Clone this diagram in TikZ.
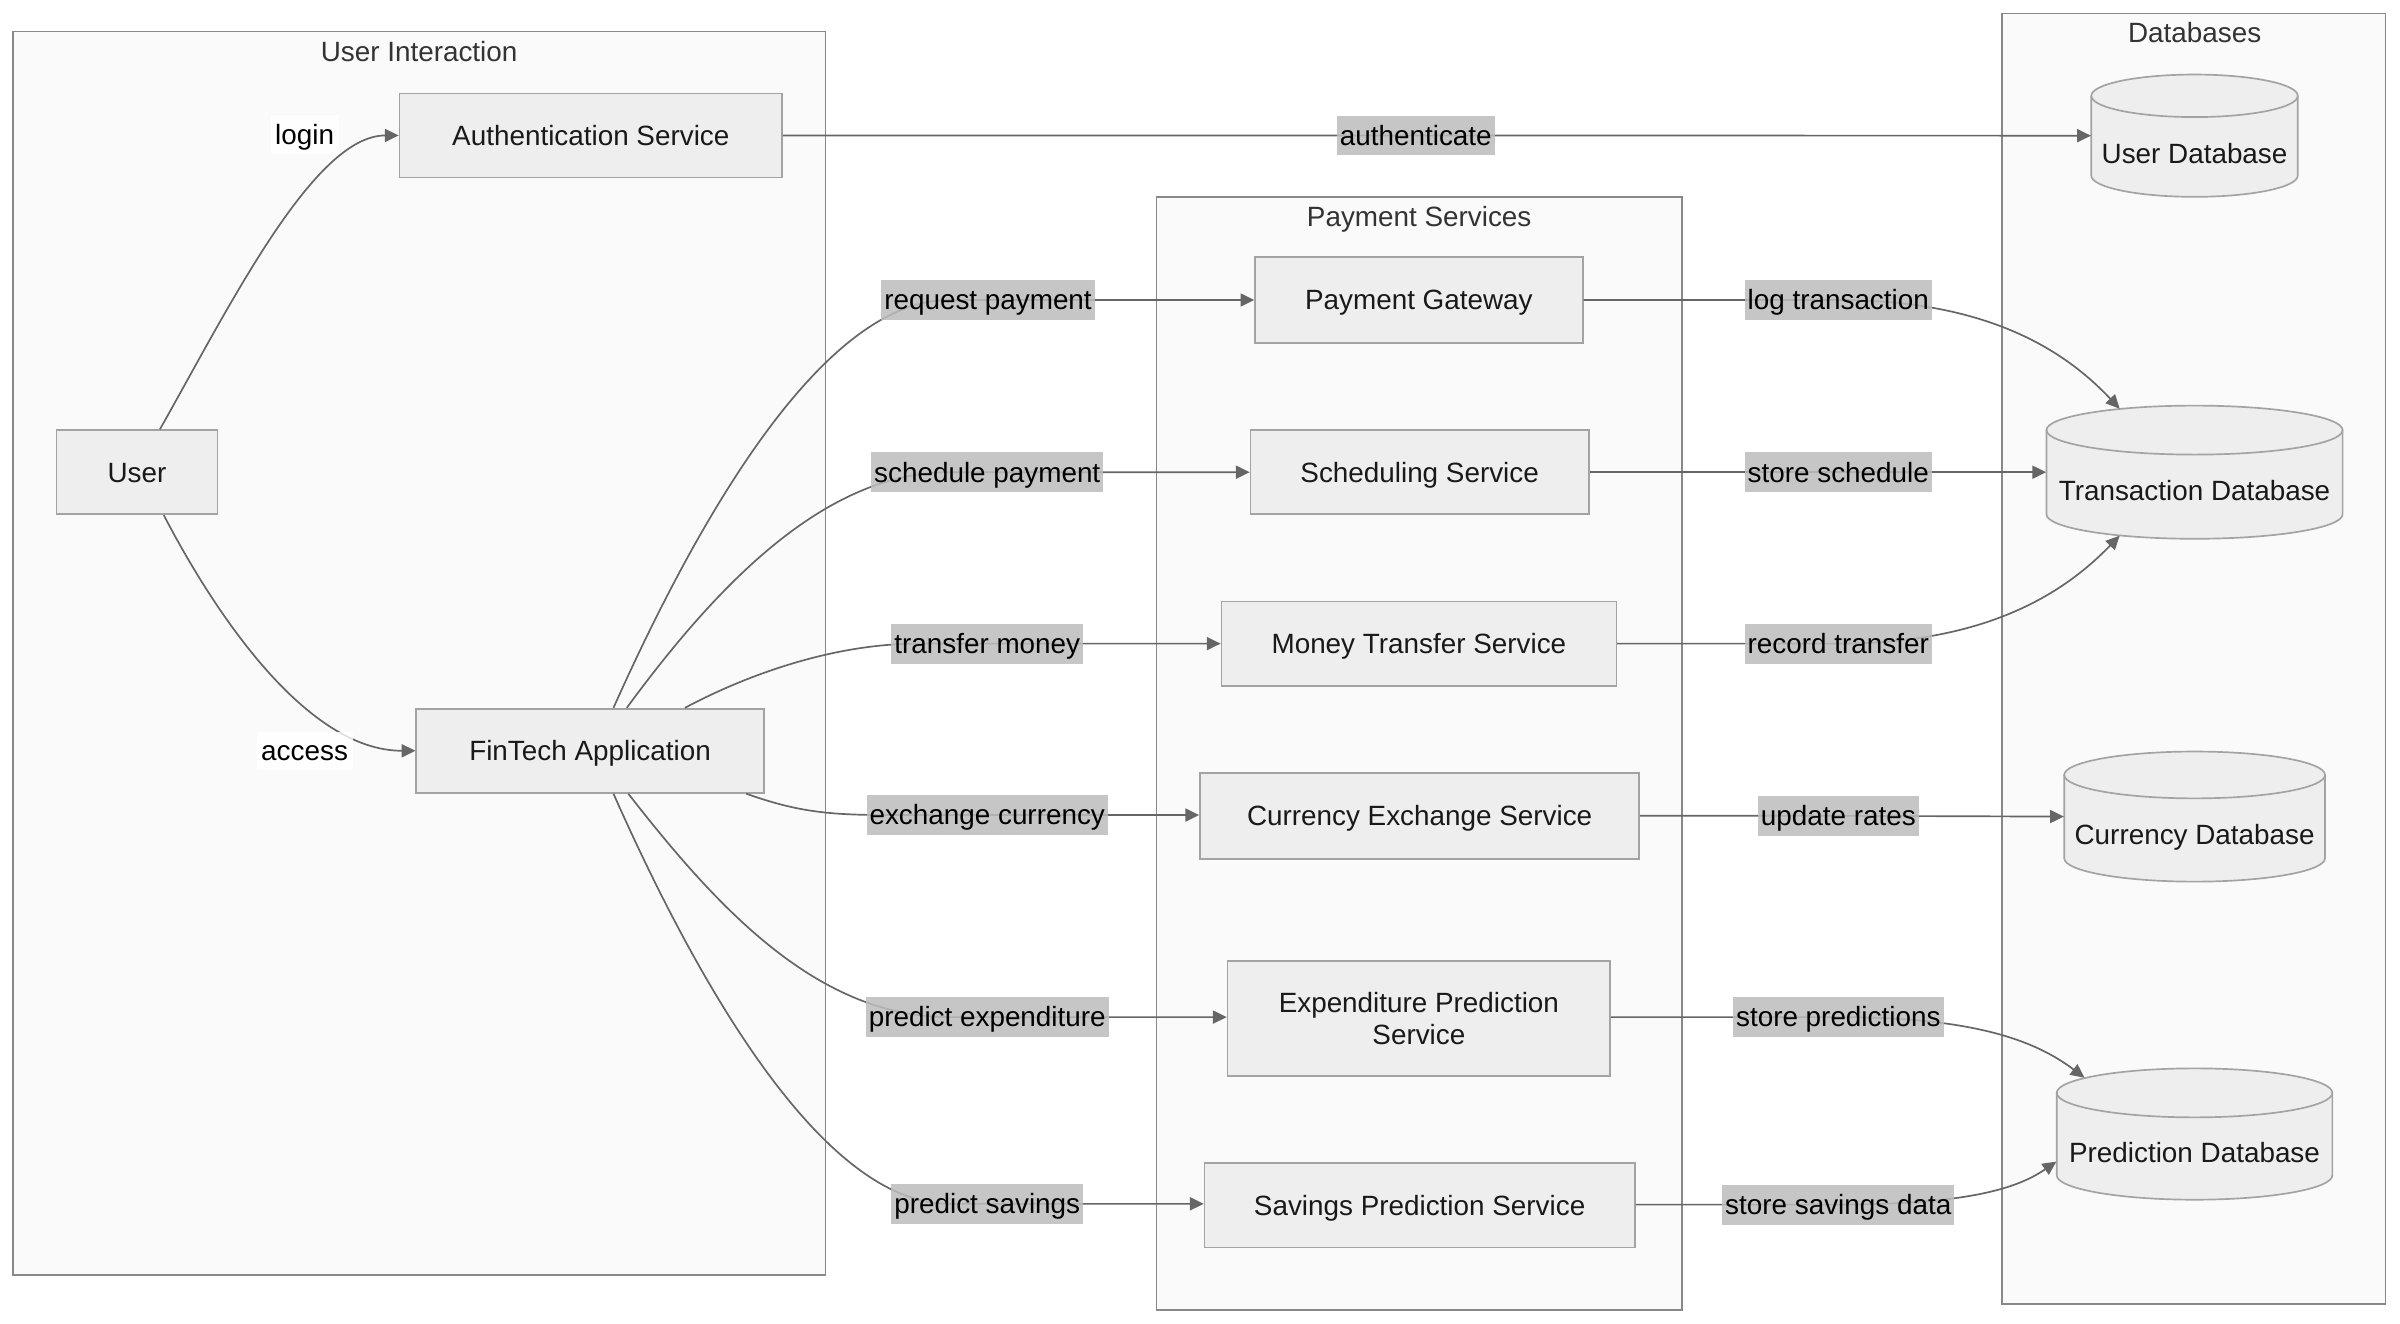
\documentclass[tikz,border=0pt]{standalone}
\usepackage{fontspec}
\setmainfont{Liberation Sans}
\usetikzlibrary{arrows.meta}
\definecolor{clfill}{HTML}{FAFAFA}
\definecolor{clline}{HTML}{888888}
\definecolor{ndfill}{HTML}{EEEEEE}
\definecolor{ndline}{HTML}{A3A3A3}
\definecolor{edgec}{HTML}{666666}
\definecolor{lblbg}{HTML}{BDBDBD}
\definecolor{ttl}{HTML}{333333}
\newcommand\mkdb[7]{%
  % #1 name, #2 cx, #3 ytop, #4 ybot, #5 rx, #6 ry, #7 text
  \path[dbshape] (#2-#5,#3+#6) -- (#2-#5,#4-#6)
     arc[start angle=180,end angle=360,x radius=#5pt,y radius=#6pt]
     -- (#2+#5,#3+#6)
     arc[start angle=0,end angle=180,x radius=#5pt,y radius=#6pt] -- cycle;
  \draw[dbshape,fill=none] (#2-#5,#3+#6)
     arc[start angle=180,end angle=360,x radius=#5pt,y radius=#6pt];
  \node[inner sep=0pt,minimum width={2*#5*1pt},minimum height={(#4-#3)*1pt}] (#1) at (#2,{(#3+#4)/2}) {};
  \node[onel,text=black!90] (#1txt) at (#2,{(#3+#4)/2+12}) {#7};
}
\begin{document}
\begin{tikzpicture}[x=1pt,y=-1pt,
  every node/.style={font=\fontsize{18.2}{21}\selectfont},
  onel/.style={text height=16.6pt,text depth=3.7pt},
  cluster/.style={draw=clline,fill=clfill,line width=1.1pt},
  ctitle/.style={onel,text=ttl,inner sep=0pt},
  box/.style={draw=ndline,fill=ndfill,line width=1.1pt,minimum height=55pt,inner sep=0pt,align=center,text=black!90},
  conn/.style={draw=edgec,line width=1.1pt},
  arr/.style={conn,-{Triangle[length=9pt,width=8.5pt]}},
  elbl/.style={onel,fill=lblbg,fill opacity=0.85,text opacity=1,inner xsep=2pt,inner ysep=2.85pt},
  plbl/.style={onel,fill=white,fill opacity=0.8,text opacity=1,inner xsep=3pt,inner ysep=2.4pt},
  dbshape/.style={draw=ndline,fill=ndfill,line width=1.1pt}
]
\fill[white] (0,0) rectangle (1568,864.4);
\useasboundingbox (0,0) rectangle (1568,864.4);

% clusters
\draw[cluster] (8.6,20.6) rectangle (539.3,833);
\node[ctitle] (tui) at (273.8,33.5) {User Interaction};
\draw[cluster] (755.5,128.9) rectangle (1098.9,855.7);
\node[ctitle] (tps) at (927.2,141.5) {Payment Services};
\draw[cluster] (1308.1,8.8) rectangle (1558.6,851.8);
\node[ctitle] (tdbs) at (1433.8,21.5) {Databases};

% nodes
\node[box,onel,minimum width=105pt] (user) at (89.5,308.5) {User};
\node[box,onel,minimum width=250pt] (auth) at (386,88.5) {Authentication Service};
\node[box,onel,minimum width=227pt] (fin) at (385.5,490.5) {FinTech Application};
\node[box,onel,minimum width=214pt,minimum height=56pt] (pg) at (927,196) {Payment Gateway};
\node[box,onel,minimum width=221pt] (sched) at (927.5,308.5) {Scheduling Service};
\node[box,onel,minimum width=258pt] (mt) at (927,420.5) {Money Transfer Service};
\node[box,onel,minimum width=287pt,minimum height=56pt] (ce) at (927.5,533) {Currency Exchange Service};
\node[box,minimum width=250pt,minimum height=75pt] (ep) at (927,665.5) {Expenditure Prediction\\Service};
\node[box,onel,minimum width=281pt] (sp) at (927.5,787.5) {Savings Prediction Service};

% databases
\mkdb{udb}{1433.75}{48.7}{128.6}{67.45}{13.9}{User Database}
\mkdb{tdb}{1433.75}{265}{352}{96.75}{16}{Transaction Database}
\mkdb{cdb}{1433.8}{491}{576}{85.2}{15.3}{Currency Database}
\mkdb{pdb}{1433.75}{698}{783.8}{90.05}{16}{Prediction Database}

% label positions
\coordinate (Lau) at (925,88.5);
\coordinate (Lrp) at (645.5,196);
\coordinate (Lsp) at (645,308.5);
\coordinate (Ltm) at (645,420.5);
\coordinate (Lec) at (645,532.5);
\coordinate (Lpe) at (645,664.5);
\coordinate (Lps) at (645,786.5);
\coordinate (Llt) at (1201,196);
\coordinate (Lss) at (1201,308.5);
\coordinate (Lrt) at (1201,420.5);
\coordinate (Lur) at (1201,533);
\coordinate (Lsd) at (1201,664.5);
\coordinate (Lsv) at (1201,787);

% edges: user interaction
\draw[arr] ([xshift=15pt]user.north) .. controls (150,200) and (205,88.5) .. (auth.west);
\draw[arr] ([xshift=17.5pt]user.south) .. controls (140,400) and (200,490.5) .. (fin.west);
\draw[arr] (auth.east) -- (Lau) -- (udb.west);

% edges: fintech to payment services
\draw[arr] ([xshift=15.3pt]fin.north) .. controls (460,330) and (540,196) .. (620,196) -- (Lrp) -- (pg.west);
\draw[arr] ([xshift=24pt]fin.north) .. controls (470,380) and (540,308.5) .. (620,308.5) -- (Lsp) -- (sched.west);
\draw[arr] ([xshift=62pt]fin.north) .. controls (482,444) and (540,420.5) .. (600,420.5) -- (Ltm) -- (mt.west);
\draw[arr] ([xshift=-12pt]fin.south east) .. controls (520,530) and (540,532.5) .. (580,532.5) -- (Lec) -- ([yshift=0.5pt]ce.west);
\draw[arr] ([xshift=25pt]fin.south) .. controls (470,595) and (535,664.5) .. (620,664.5) -- (Lpe) -- ([yshift=1pt]ep.west);
\draw[arr] ([xshift=15.3pt]fin.south) .. controls (460,652) and (540,786.5) .. (620,786.5) -- (Lps) -- ([yshift=1pt]sp.west);

% edges: services to databases
\draw[arr] (pg.east) -- (Llt) .. controls (1300,196) and (1350,230) .. ([shift={(48,2.2)}]tdb.north west);
\draw[arr] (sched.east) -- (Lss) -- (tdb.west);
\draw[arr] (mt.east) -- (Lrt) .. controls (1300,420.5) and (1350,386) .. ([shift={(48,-2.2)}]tdb.south west);
\draw[arr] (ce.east) -- (Lur) -- (cdb.west);
\draw[arr] ([yshift=1pt]ep.east) -- (Lsd) .. controls (1290,664.5) and (1330,680) .. ([shift={(18.3,6.3)}]pdb.north west);
\draw[arr] ([yshift=0.5pt]sp.east) -- (Lsv) .. controls (1290,787) and (1320,775) .. ([shift={(0,18)}]pdb.west);

% edge labels
\node[plbl] (llogin) at (199,88) {login};
\node[plbl] (laccess) at (199,490.5) {access};
\node[elbl] (lau) at (Lau) {authenticate};
\node[elbl] (lrp) at (Lrp) {request payment};
\node[elbl] (lsp) at (Lsp) {schedule payment};
\node[elbl] (ltm) at (Ltm) {transfer money};
\node[elbl] (lec) at (Lec) {exchange currency};
\node[elbl] (lpe) at (Lpe) {predict expenditure};
\node[elbl] (lps) at (Lps) {predict savings};
\node[elbl] (llt) at (Llt) {log transaction};
\node[elbl] (lss) at (Lss) {store schedule};
\node[elbl] (lrt) at (Lrt) {record transfer};
\node[elbl] (lur) at (Lur) {update rates};
\node[elbl] (lsd) at (Lsd) {store predictions};
\node[elbl] (lsv) at (Lsv) {store savings data};
\end{tikzpicture}
\end{document}
